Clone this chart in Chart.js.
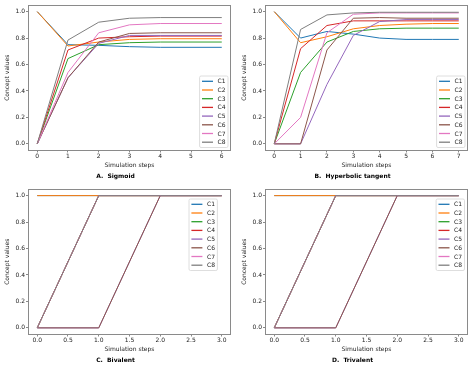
<!DOCTYPE html>
<html><head><meta charset="utf-8">
<script src="https://cdn.jsdelivr.net/npm/chart.js@4.4.0/dist/chart.umd.min.js"></script>
<style>
html,body{margin:0;padding:0;background:#fff;}
#wrap{position:relative;width:474px;height:367px;overflow:hidden;background:#fff;}
canvas{position:absolute;}
</style></head><body>
<div id="wrap">
<canvas id="cA" width="237" height="183" style="left:0px;top:0px"></canvas>
<canvas id="cB" width="237" height="183" style="left:237px;top:0px"></canvas>
<canvas id="cC" width="237" height="183" style="left:0px;top:184px"></canvas>
<canvas id="cD" width="237" height="183" style="left:237px;top:184px"></canvas>
</div>
<script>
// ---------- DATA ----------
const seriesNames = ['C1','C2','C3','C4','C5','C6','C7','C8'];
const seriesColors = ['#1f77b4','#ff7f0e','#2ca02c','#d62728','#9467bd','#8c564b','#e377c2','#7f7f7f'];

const sigmoidSteps = [0,1,2,3,4,5,6];
const sigmoidSeries = [
  [1, 0.75, 0.745, 0.735, 0.73, 0.73, 0.73],
  [1, 0.74, 0.77, 0.79, 0.795, 0.795, 0.795],
  [0, 0.645, 0.75, 0.765, 0.77, 0.77, 0.77],
  [0, 0.71, 0.80, 0.81, 0.815, 0.815, 0.815],
  [0, 0.50, 0.76, 0.82, 0.82, 0.82, 0.82],
  [0, 0.50, 0.77, 0.835, 0.84, 0.84, 0.84],
  [0, 0.54, 0.84, 0.90, 0.91, 0.91, 0.91],
  [0, 0.785, 0.92, 0.95, 0.955, 0.955, 0.955]
];

const tanhSteps = [0,1,2,3,4,5,6,7];
const tanhSeries = [
  [1, 0.80, 0.85, 0.83, 0.80, 0.79, 0.79, 0.79],
  [1, 0.765, 0.81, 0.87, 0.895, 0.905, 0.91, 0.91],
  [0, 0.54, 0.77, 0.85, 0.87, 0.875, 0.875, 0.875],
  [0, 0.72, 0.895, 0.93, 0.93, 0.93, 0.93, 0.93],
  [0, 0, 0.45, 0.82, 0.925, 0.94, 0.94, 0.94],
  [0, 0, 0.71, 0.95, 0.955, 0.95, 0.95, 0.95],
  [0, 0.20, 0.84, 0.98, 0.99, 0.99, 0.99, 0.99],
  [0, 0.865, 0.975, 0.99, 0.995, 0.995, 0.995, 0.995]
];

const bivalentSteps = [0,1,2,3];
const bivalentSeries = [
  [1,1,1,1],[1,1,1,1],[0,1,1,1],[0,1,1,1],
  [0,0,1,1],[0,0,1,1],[0,1,1,1],[0,1,1,1]
];

const trivalentSteps = [0,1,2,3];
const trivalentSeries = [
  [1,1,1,1],[1,1,1,1],[0,1,1,1],[0,1,1,1],
  [0,0,1,1],[0,0,1,1],[0,1,1,1],[0,1,1,1]
];

const yTicks = [0,0.2,0.4,0.6,0.8,1.0];
const panelTitles = ['A.  Sigmoid','B.  Hyperbolic tangent','C.  Bivalent','D.  Trivalent'];
const xAxisLabel = 'Simulation steps';
const yAxisLabel = 'Concept values';

// ---------- RENDERING ----------
const FONT = "'DejaVu Sans', sans-serif";
const FS = 6;

const framePlugin = {
  id: 'frame',
  afterDatasetsDraw(chart) {
    const {ctx, chartArea: a} = chart;
    ctx.save();
    ctx.strokeStyle = '#8a8a8a';
    ctx.lineWidth = 1;
    ctx.strokeRect(Math.round(a.left)+0.5, Math.round(a.top)+0.5, Math.round(a.right-a.left)-1, Math.round(a.bottom-a.top)-1);
    ctx.restore();
  }
};

const innerLegend = {
  id: 'innerLegend',
  afterDraw(chart, args, o) {
    const {ctx, chartArea: a} = chart;
    const ds = chart.data.datasets;
    ctx.save();
    ctx.font = FS + 'px ' + FONT;
    const tw = Math.max(...ds.map(d => ctx.measureText(d.label).width));
    const w = o.pad*2 + o.handle + o.gap + tw;
    const h = o.first*2 + (ds.length-1)*o.row;
    const x = o.right != null ? a.right - o.right - w : a.left + o.left;
    const y = o.bottom != null ? a.bottom - o.bottom - h : a.top + o.top;
    const r = 1.5;
    ctx.beginPath();
    ctx.moveTo(x+r, y); ctx.lineTo(x+w-r, y); ctx.quadraticCurveTo(x+w, y, x+w, y+r);
    ctx.lineTo(x+w, y+h-r); ctx.quadraticCurveTo(x+w, y+h, x+w-r, y+h);
    ctx.lineTo(x+r, y+h); ctx.quadraticCurveTo(x, y+h, x, y+h-r);
    ctx.lineTo(x, y+r); ctx.quadraticCurveTo(x, y, x+r, y);
    ctx.closePath();
    ctx.fillStyle = 'rgba(255,255,255,0.8)';
    ctx.fill();
    ctx.strokeStyle = '#d6d6d6';
    ctx.lineWidth = 0.8;
    ctx.stroke();
    ctx.textBaseline = 'middle';
    ctx.textAlign = 'left';
    ds.forEach((d, i) => {
      const cy = y + o.first + i*o.row;
      ctx.beginPath();
      ctx.strokeStyle = d.borderColor;
      ctx.lineWidth = 1.3;
      ctx.moveTo(x + o.pad, cy);
      ctx.lineTo(x + o.pad + o.handle, cy);
      ctx.stroke();
      ctx.fillStyle = '#222';
      ctx.fillText(d.label, x + o.pad + o.handle + o.gap, cy + 0.5);
    });
    ctx.restore();
  }
};

function makeChart(id, steps, series, xMin, xMax, xStep, xDec, title, legendPos) {
  const datasets = series.map((vals, i) => ({
    label: seriesNames[i],
    data: vals.map((v, k) => ({x: steps[k], y: v})),
    borderColor: seriesColors[i],
    backgroundColor: seriesColors[i],
    borderWidth: 1,
    pointRadius: 0,
    pointHoverRadius: 0,
    tension: 0,
    fill: false,
    order: series.length - i
  }));
  const tickFont = {family: FONT, size: FS, lineHeight: 1};
  return new Chart(document.getElementById(id), {
    type: 'line',
    data: {datasets},
    options: {
      responsive: false,
      animation: false,
      devicePixelRatio: 1,
      layout: {padding: {top: 5, right: 6, bottom: 3.4, left: 0}},
      plugins: {
        legend: {display: false},
        tooltip: {enabled: false},
        title: {
          display: true, position: 'bottom', text: title, color: '#000',
          font: {family: FONT, size: FS, weight: 'bold', lineHeight: 1.2},
          padding: {top: 3.8, bottom: 0}
        },
        innerLegend: Object.assign({pad: 2.4, handle: 11, gap: 4.6, first: 5.3, row: 8.7}, legendPos)
      },
      scales: {
        x: {
          type: 'linear', min: xMin, max: xMax,
          afterFit: s => { s.height = 18.1; },
          afterBuildTicks: s => { s.ticks = s.ticks.filter(t => t.value >= steps[0] - 1e-9 && t.value <= steps[steps.length-1] + 1e-9); },
          ticks: {
            stepSize: xStep, includeBounds: false, autoSkip: false, maxRotation: 0,
            padding: 0.5, color: '#222', font: tickFont,
            callback: v => Number(v).toFixed(xDec)
          },
          grid: {display: true, drawOnChartArea: false, drawTicks: true, tickLength: 2, color: '#8a8a8a'},
          border: {display: false},
          title: {display: true, text: xAxisLabel, color: '#222', font: {family: FONT, size: FS, lineHeight: 1.2}, padding: {top: 0, bottom: 0}}
        },
        y: {
          type: 'linear', min: -0.05, max: 1.05,
          afterFit: s => { s.width = 28; },
          afterBuildTicks: s => { s.ticks = yTicks.map(v => ({value: v})); },
          ticks: {
            stepSize: 0.2, includeBounds: false, padding: 1, color: '#222', font: tickFont,
            callback: v => Number(v).toFixed(1)
          },
          grid: {display: true, drawOnChartArea: false, drawTicks: true, tickLength: 2, color: '#8a8a8a'},
          border: {display: false},
          title: {display: true, text: yAxisLabel, color: '#222', font: {family: FONT, size: FS, lineHeight: 1.2}, padding: {top: 3.4, bottom: 0}}
        }
      }
    },
    plugins: [framePlugin, innerLegend]
  });
}

makeChart('cA', sigmoidSteps, sigmoidSeries, -0.3, 6.3, 1, 0, panelTitles[0], {right: 3, bottom: 3});
makeChart('cB', tanhSteps, tanhSeries, -0.35, 7.35, 1, 0, panelTitles[1], {right: 3, bottom: 3});
makeChart('cC', bivalentSteps, bivalentSeries, -0.15, 3.15, 0.5, 1, panelTitles[2], {left: 161, top: 10});
makeChart('cD', trivalentSteps, trivalentSeries, -0.15, 3.15, 0.5, 1, panelTitles[3], {right: 3.5, top: 10});
</script>
</body></html>
